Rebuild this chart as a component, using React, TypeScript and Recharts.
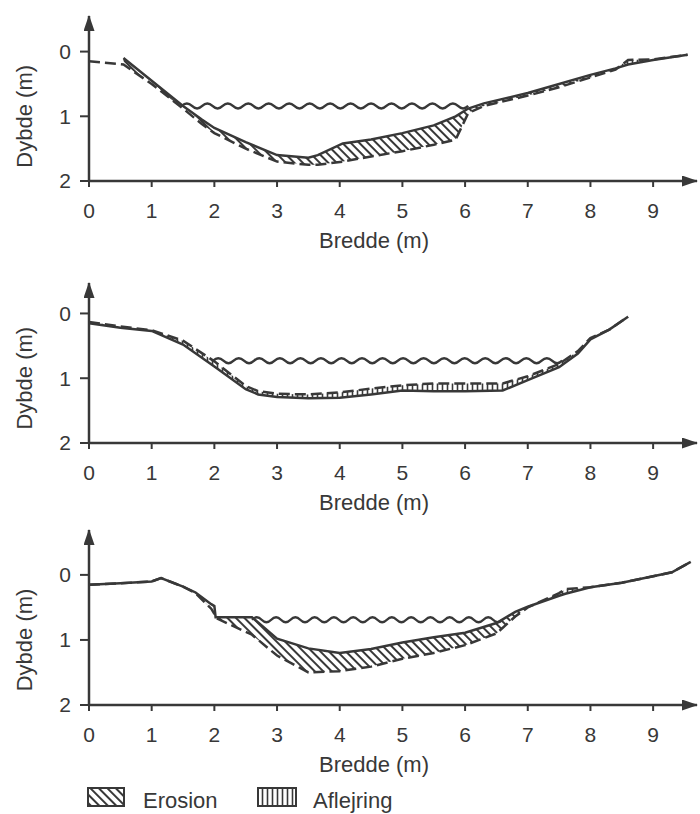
import React from 'react';
import { ComposedChart, Line, Area, XAxis, YAxis, ReferenceLine } from 'recharts';

const X_TICKS = [0, 1, 2, 3, 4, 5, 6, 7, 8, 9];
const Y_TICKS = [0, 1, 2];

// profil 1 (dybde i m, solid = før, stiplet = efter)
const P1_X = [0, 0.55, 1.0, 1.5, 1.8, 2.0, 2.5, 3.0, 3.5, 3.65, 4.05, 4.5, 5.0, 5.5, 5.85, 6.05, 6.3, 7.0, 7.5, 8.0, 8.4, 8.6, 9.0, 9.55];
const P1_SOLID = [null, 0.1, 0.45, 0.84, 1.05, 1.18, 1.4, 1.6, 1.64, 1.6, 1.42, 1.36, 1.26, 1.14, 1.0, 0.88, 0.8, 0.64, 0.5, 0.36, 0.26, 0.2, 0.13, 0.05];
const P1_DASHED = [0.15, 0.2, 0.5, 0.88, 1.12, 1.26, 1.5, 1.7, 1.75, 1.75, 1.7, 1.62, 1.54, 1.44, 1.36, 0.95, 0.84, 0.68, 0.55, 0.4, 0.28, 0.13, 0.12, 0.05];

// profil 2
const P2_X = [0, 0.5, 1.0, 1.5, 2.0, 2.5, 2.7, 3.0, 3.5, 4.0, 4.5, 5.0, 5.5, 6.0, 6.6, 7.0, 7.5, 7.8, 8.0, 8.3, 8.6];
const P2_SOLID = [0.15, 0.22, 0.27, 0.48, 0.82, 1.17, 1.25, 1.29, 1.31, 1.3, 1.25, 1.19, 1.2, 1.2, 1.19, 1.03, 0.83, 0.62, 0.4, 0.25, 0.05];
const P2_DASHED = [0.13, 0.2, 0.26, 0.42, 0.74, 1.12, 1.2, 1.24, 1.25, 1.22, 1.16, 1.11, 1.08, 1.08, 1.08, 0.97, 0.78, 0.58, 0.38, 0.25, 0.05];

// profil 3
const P3_X = [0, 0.5, 1.0, 1.15, 1.5, 1.7, 1.95, 2.0, 2.02, 2.6, 3.0, 3.5, 4.0, 4.5, 5.0, 5.5, 6.0, 6.5, 6.8, 7.0, 7.5, 7.6, 8.0, 8.5, 9.0, 9.3, 9.6];
const P3_SOLID = [0.15, 0.13, 0.1, 0.05, 0.18, 0.27, 0.45, 0.48, 0.65, 0.65, 0.98, 1.13, 1.2, 1.14, 1.04, 0.96, 0.89, 0.74, 0.57, 0.49, 0.32, 0.29, 0.19, 0.12, 0.02, -0.04, -0.2];
const P3_DASHED = [0.15, 0.13, 0.1, 0.05, 0.18, 0.28, 0.52, 0.6, 0.66, 0.92, 1.24, 1.5, 1.48, 1.41, 1.29, 1.2, 1.08, 0.9, 0.64, 0.5, 0.28, 0.22, 0.19, 0.12, 0.02, -0.04, -0.2];

// vandspejl: fra, til, dybde
const WATER_FROM = [1.48, 1.98, 2.6];
const WATER_TO = [6.05, 7.55, 6.6];
const WATER_DEPTH = [0.84, 0.73, 0.69];

const INK = '#383838';
const FONT = '"Liberation Sans", Arial, sans-serif';

const WaveLine = (props: any) => {
  const { x1, y1, x2 } = props;
  const n = Math.max(1, Math.round((x2 - x1) / 20));
  const step = (x2 - x1) / n;
  let d = `M${x1},${y1}`;
  for (let i = 0; i < n; i++) d += ` q${step / 4},-5 ${step / 2},0 t${step / 2},0`;
  return <path d={d} fill="none" stroke={INK} strokeWidth={2.4} />;
};

const Hatches = ({ id }: { id: string }) => (
  <>
    <pattern id={`ero-${id}`} patternUnits="userSpaceOnUse" width={6} height={6} patternTransform="rotate(-45)">
      <line x1={3} y1={0} x2={3} y2={6} stroke={INK} strokeWidth={2} />
    </pattern>
    <pattern id={`afl-${id}`} patternUnits="userSpaceOnUse" width={5} height={5}>
      <line x1={2.5} y1={0} x2={2.5} y2={5} stroke={INK} strokeWidth={1.6} />
    </pattern>
  </>
);

interface PanelProps {
  id: string;
  top: number;
  height: number;
  plotTop: number;
  plotBottom: number;
  yMin: number;
  xs: number[];
  solid: (number | null)[];
  dashed: (number | null)[];
  idx: number;
}

const Panel: React.FC<PanelProps> = ({ id, top, height, plotTop, plotBottom, yMin, xs, solid, dashed, idx }) => {
  const rows = xs.map((x, i) => {
    const s = solid[i];
    const d = dashed[i];
    const both = s != null && d != null;
    return {
      x,
      solid: s,
      dashed: d,
      ero: both ? [s, Math.max(s as number, d as number)] : null,
      afl: both ? [Math.min(s as number, d as number), s] : null,
    };
  });
  const axisY = plotBottom - top;
  const yLabelY = plotTop - top + ((1 - yMin) / (2 - yMin)) * (plotBottom - plotTop);

  return (
    <div style={{ position: 'absolute', left: 0, top }}>
      <ComposedChart
        width={700}
        height={height}
        data={rows}
        margin={{ top: plotTop - top, right: 3, bottom: 0, left: 0 }}
      >
        <defs>
          <marker id={`arr-${id}`} viewBox="0 0 16 11" refX={15} refY={5.5} markerWidth={16} markerHeight={11} markerUnits="userSpaceOnUse" orient="auto-start-reverse">
            <path d="M0,0 L16,5.5 L0,11 z" fill={INK} />
          </marker>
          <Hatches id={id} />
        </defs>
        <XAxis
          type="number"
          dataKey="x"
          domain={[0, 9.7]}
          ticks={X_TICKS}
          interval={0}
          allowDataOverflow
          height={height - axisY}
          tickSize={6}
          tickMargin={16}
          axisLine={{ stroke: INK, strokeWidth: 2.5, markerEnd: `url(#arr-${id})` }}
          tickLine={{ stroke: INK, strokeWidth: 2 }}
          tick={{ fill: INK, fontSize: 21, fontFamily: FONT }}
        />
        <YAxis
          type="number"
          domain={[yMin, 2]}
          reversed
          ticks={Y_TICKS}
          interval={0}
          allowDataOverflow
          width={89}
          tickSize={9}
          tickMargin={9}
          axisLine={{ stroke: INK, strokeWidth: 2.5, markerStart: `url(#arr-${id})` }}
          tickLine={{ stroke: INK, strokeWidth: 2 }}
          tick={{ fill: INK, fontSize: 21, fontFamily: FONT }}
        />
        <Area type="linear" dataKey="ero" stroke="none" fill={`url(#ero-${id})`} fillOpacity={1} isAnimationActive={false} dot={false} activeDot={false} />
        <Area type="linear" dataKey="afl" stroke="none" fill={`url(#afl-${id})`} fillOpacity={1} isAnimationActive={false} dot={false} activeDot={false} />
        <Line type="linear" dataKey="solid" stroke={INK} strokeWidth={2.5} dot={false} activeDot={false} isAnimationActive={false} />
        <Line type="linear" dataKey="dashed" stroke={INK} strokeWidth={2.5} strokeDasharray="11 5" dot={false} activeDot={false} isAnimationActive={false} />
        <ReferenceLine
          segment={[
            { x: WATER_FROM[idx], y: WATER_DEPTH[idx] },
            { x: WATER_TO[idx], y: WATER_DEPTH[idx] },
          ]}
          shape={WaveLine}
        />
        <text
          x={25}
          y={yLabelY}
          transform={`rotate(-90 25 ${yLabelY})`}
          textAnchor="middle"
          dominantBaseline="central"
          fill={INK}
          fontSize={22}
          fontFamily={FONT}
        >
          Dybde (m)
        </text>
        <text x={374} y={axisY + 67} textAnchor="middle" fill={INK} fontSize={22} fontFamily={FONT}>
          Bredde (m)
        </text>
      </ComposedChart>
    </div>
  );
};

export default function App() {
  return (
    <div style={{ position: 'absolute', left: 0, top: 0, width: 700, height: 814, background: '#fff', overflow: 'hidden' }}>
      <Panel id="p1" idx={0} top={0} height={260} plotTop={16} plotBottom={181} yMin={-0.55} xs={P1_X} solid={P1_SOLID} dashed={P1_DASHED} />
      <Panel id="p2" idx={1} top={262} height={260} plotTop={283} plotBottom={443} yMin={-0.47} xs={P2_X} solid={P2_SOLID} dashed={P2_DASHED} />
      <Panel id="p3" idx={2} top={522} height={258} plotTop={530} plotBottom={705} yMin={-0.69} xs={P3_X} solid={P3_SOLID} dashed={P3_DASHED} />
      <svg style={{ position: 'absolute', left: 0, top: 770 }} width={700} height={44}>
        <defs>
          <Hatches id="leg" />
        </defs>
        <rect x={88} y={18} width={36} height={18} fill="url(#ero-leg)" stroke={INK} strokeWidth={2} />
        <text x={143} y={37.5} fill={INK} fontSize={22} fontFamily={FONT}>Erosion</text>
        <rect x={258} y={18} width={38} height={18} fill="url(#afl-leg)" stroke={INK} strokeWidth={2} />
        <text x={313} y={37.5} fill={INK} fontSize={22} fontFamily={FONT}>Aflejring</text>
      </svg>
    </div>
  );
}
